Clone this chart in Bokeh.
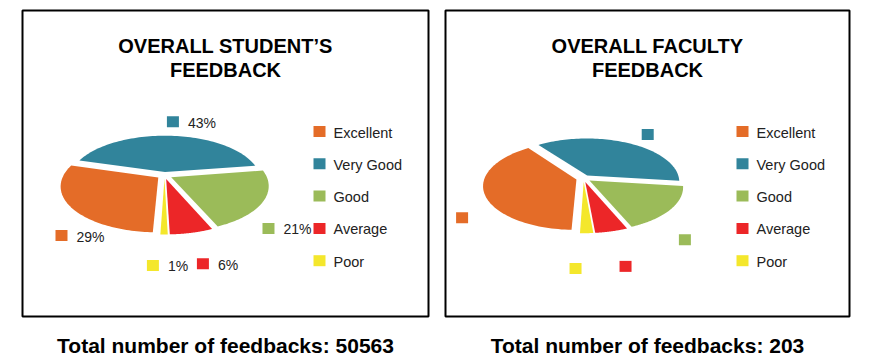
import numpy as np
from bokeh.plotting import figure
from bokeh.models import Range1d
from bokeh.embed import file_html
from bokeh.resources import INLINE
from bokeh.core.properties import value

# ---------------- data ----------------
categories = ["Excellent", "Very Good", "Good", "Average", "Poor"]
colors = ["#E46C28", "#31849B", "#9BBB59", "#EC2628", "#F4E72C"]
student_pct = [29, 43, 21, 6, 1]          # labelled percentages
faculty_counts = [80, 75, 34, 10, 4]      # (total 203)
student_total = 50563
faculty_total = 203
student_title = ["OVERALL STUDENT\u2019S", "FEEDBACK"]
faculty_title = ["OVERALL FACULTY", "FEEDBACK"]

# ---------------- layout / style ----------------
W, H = 870, 359
FONT = "Liberation Sans"
EXPLODE = 0.08
START = 182.0                 # first slice start angle, deg clockwise from top
LBL_A, LBL_B, LBL_C = 127.0, 72.0, 18.0   # data-label ellipse
LBL_SEP = 50.0                # minimal spacing of neighbouring labels
LBL_FS = 14.0
CHAR_W = {"%": 0.889}         # rough glyph widths (em) for label width estimate

p = figure(width=W, height=H, output_backend="svg", toolbar_location=None,
           x_range=Range1d(0, W), y_range=Range1d(H, 0),
           min_border=0)
p.axis.visible = False
p.grid.visible = False
p.outline_line_color = None
p.background_fill_color = "white"
p.border_fill_color = "white"


def text_w(s):
    return sum(CHAR_W.get(c, 0.556) for c in s) * LBL_FS


def draw_panel(vals, cx, cy, rx, ry, persp, box_l, box_r, title, total, show_text):
    vals = np.asarray(vals, dtype=float)
    fr = vals / vals.sum()
    pct = np.round(fr * 100).astype(int)
    ends = START + np.cumsum(fr) * 360.0
    starts = ends - fr * 360.0
    xs, ys, lx, ly = [], [], [], []
    for a0, a1 in zip(starts, ends):
        t = np.radians(np.linspace(a0, a1, 80))
        mid = np.radians((a0 + a1) / 2)
        eu, ev = EXPLODE * np.sin(mid), -EXPLODE * np.cos(mid)
        u = np.concatenate([[0.0], np.sin(t), [0.0]]) + eu
        v = np.concatenate([[0.0], -np.cos(t), [0.0]]) + ev
        w = 1.0 - persp * v
        xs.append(list(cx + rx * u / w))
        ys.append(list(cy + ry * v / w))
        lx.append(float(cx + LBL_A * np.sin(mid)))
        ly.append(float(cy - LBL_B * np.cos(mid) + LBL_C))
    p.patches(xs, ys, fill_color=colors, line_color=None)

    labels = [f"{v}%" for v in pct]
    n = len(lx)
    # best-fit style: push apart labels that share a row
    for _ in range(5):
        for i in range(n):
            for j in range(n):
                if i == j or lx[i] > lx[j]:
                    continue
                if abs(ly[i] - ly[j]) < 16 and lx[j] - lx[i] < LBL_SEP:
                    d = (LBL_SEP - (lx[j] - lx[i])) / 2
                    lx[i] -= d
                    lx[j] += d
    # keep labels inside the plot area (left of the legend)
    leg_sq_x = box_l + 297
    for k in range(n):
        right = lx[k] + 15 + text_w(labels[k])
        lim = leg_sq_x - 8
        if right > lim:
            lx[k] -= right - lim

    p.rect(lx, ly, width=12, height=11, fill_color=colors, line_color=None)
    if show_text:
        p.text([x + 15 for x in lx], [y + 1 for y in ly], text=labels,
               text_font=value(FONT), text_font_size=f"{LBL_FS:g}px",
               text_align="left", text_baseline="middle", text_color="#222222")

    # frame box
    p.quad(left=[box_l], right=[box_r], top=[10], bottom=[316],
           fill_color=None, line_color="black", line_width=2)

    # title
    bc = (box_l + box_r) / 2
    p.text([bc, bc], [45, 69], text=title, text_font=value(FONT),
           text_font_size="20px", text_font_style="bold",
           text_align="center", text_baseline="middle", text_color="black")

    # legend
    leg_y = [131 + 32.3 * i for i in range(len(categories))]
    p.rect([leg_sq_x] * len(categories), leg_y, width=12, height=11,
           fill_color=colors, line_color=None)
    p.text([leg_sq_x + 14] * len(categories), [y + 1 for y in leg_y], text=categories,
           text_font=value(FONT), text_font_size="14.5px",
           text_align="left", text_baseline="middle", text_color="#222222")

    # total below
    p.text([bc], [345], text=[f"Total number of feedbacks: {total}"],
           text_font=value(FONT), text_font_size="21px", text_font_style="bold",
           text_align="center", text_baseline="middle", text_color="black")


draw_panel(student_pct, 164.0, 175.0, 95.0, 44.0, 0.18, 22, 428,
           student_title, student_total, True)
draw_panel(faculty_counts, 583.0, 178.0, 92.0, 43.0, 0.14, 445, 849,
           faculty_title, faculty_total, False)

open("out.html", "w").write(file_html(p, INLINE))
